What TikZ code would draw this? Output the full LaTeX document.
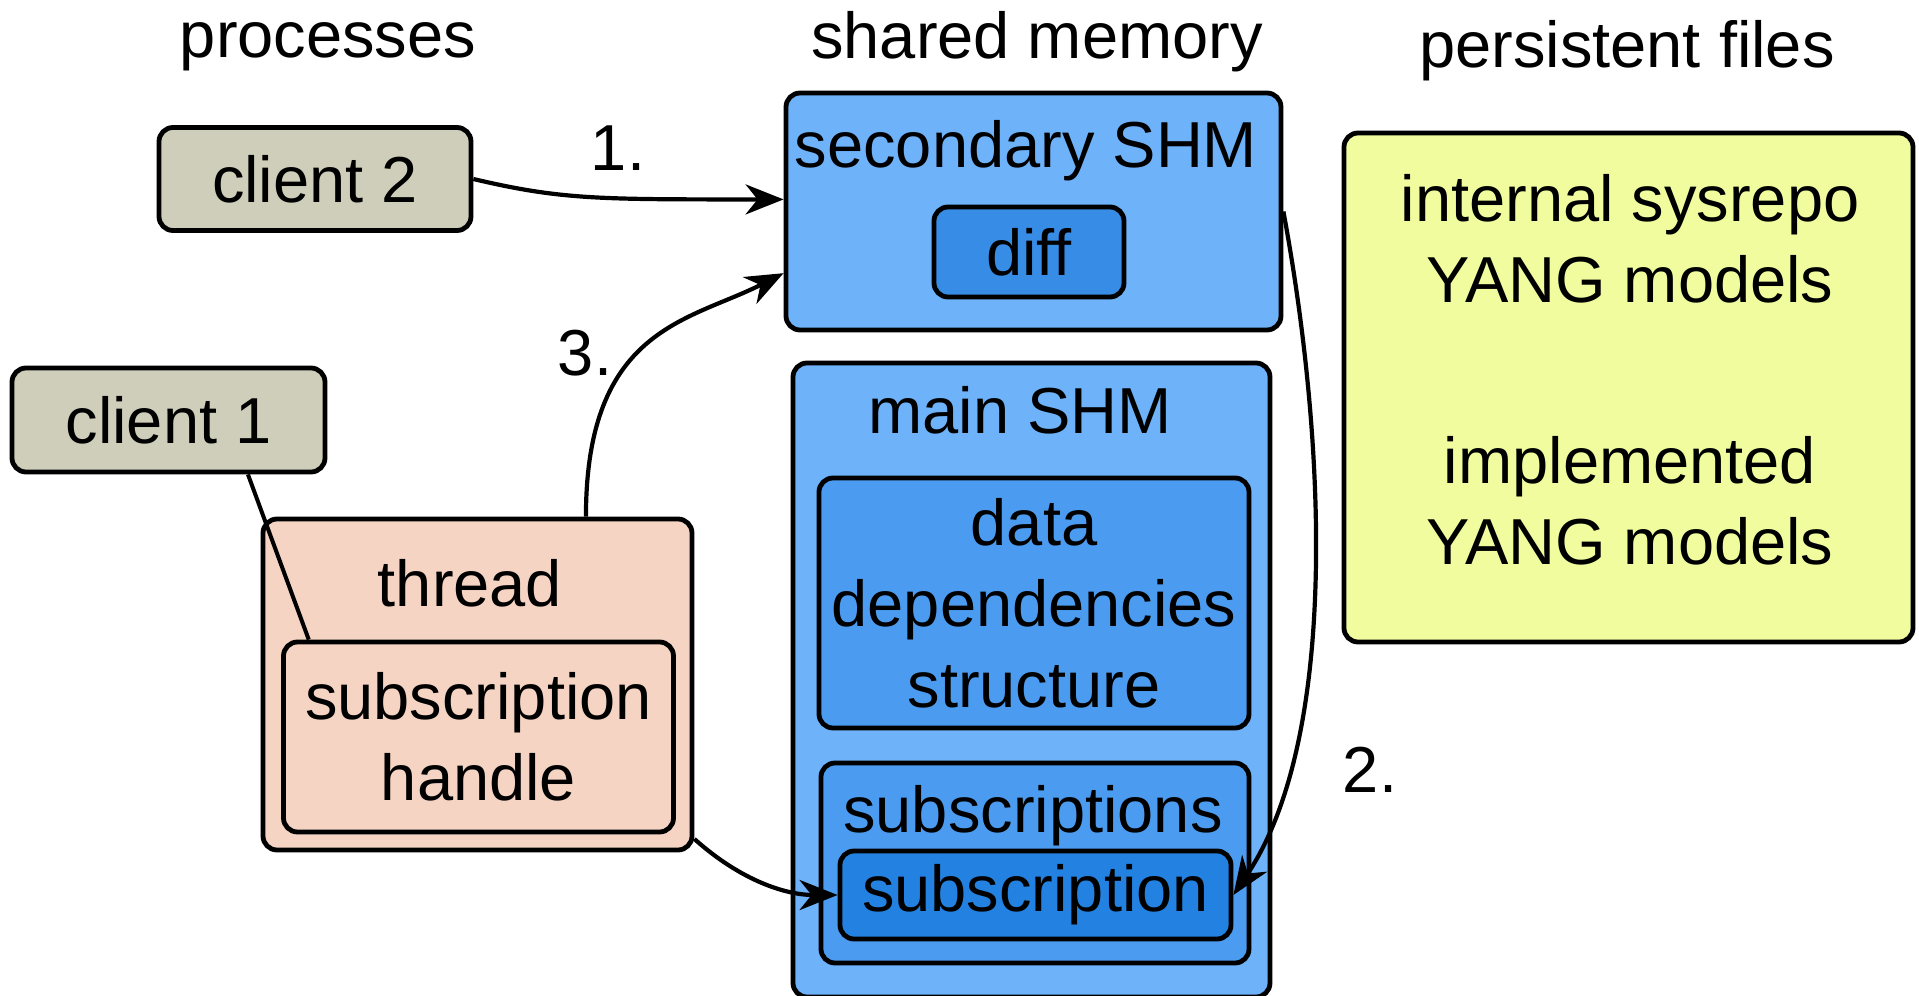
\documentclass[tikz,border=0pt]{standalone}
\usepackage{fontspec}
\setmainfont{Liberation Sans}
\usetikzlibrary{arrows.meta,calc}

\definecolor{clientgray}{RGB}{206,206,186}
\definecolor{threadpink}{RGB}{245,212,196}
\definecolor{shmblue}{RGB}{110,178,250}
\definecolor{diffblue}{RGB}{55,140,230}
\definecolor{depblue}{RGB}{75,156,240}
\definecolor{subblue}{RGB}{35,130,225}
\definecolor{fileyellow}{RGB}{240,252,158}

\begin{document}
\begin{tikzpicture}[x=0.5pt,y=0.5pt,yscale=-1,xscale=1,
  font=\fontsize{32.5}{40.5}\selectfont,
  box/.style={draw=black,line width=2.4pt,rounded corners=7pt,inner sep=0pt,align=center},
  conn/.style={line width=2.1pt,-{Stealth[length=19pt,width=15pt,inset=6pt]}}]
\useasboundingbox (0,0) rectangle (1919,996);

% Headings
\node[anchor=base] (hproc) at (328,57) {processes};
\node[anchor=base] (hshm) at (1037,58) {shared memory};
\node[anchor=base] (hfiles) at (1627,67) {persistent files};

%Shapes: processes
\node[box,fill=clientgray,minimum width=156pt,minimum height=51.5pt] (client2) at (315,179) {client 2};
\node[box,fill=clientgray,minimum width=156.5pt,minimum height=52pt] (client1) at (168.5,420) {client 1};
\node[box,fill=threadpink,minimum width=214.5pt,minimum height=165.5pt] (thread) at (477.5,684.5) {};
\node[box,fill=threadpink,minimum width=195pt,minimum height=95pt] (handle) at (478.5,737) {subscription\\handle};

%Shapes: shared memory
\node[box,fill=shmblue,minimum width=247.5pt,minimum height=118.5pt] (secshm) at (1033.5,211.5) {};
\node[box,fill=diffblue,minimum width=95pt,minimum height=45pt] (diff) at (1029,252) {diff};
\node[box,fill=shmblue,minimum width=238.5pt,minimum height=317pt] (mainshm) at (1031.5,680) {};
\node[box,fill=depblue,minimum width=215pt,minimum height=125pt] (deps) at (1034,603) {data\\dependencies\\structure};
\node[box,fill=depblue,minimum width=214pt,minimum height=100pt] (subs) at (1035,863) {};
\node[box,fill=subblue,minimum width=195.5pt,minimum height=44pt] (sub) at (1035.5,895) {subscription};

%Shapes: persistent files
\node[box,fill=fileyellow,minimum width=284.5pt,minimum height=254.5pt] (files) at (1628.5,387.5) {};

% Text Node
\node[anchor=base] (threadtxt) at (470,606) {thread};
\node[anchor=base] (secshmtxt) at (1026,167) {secondary SHM};
\node[anchor=base] (mainshmtxt) at (1020,433) {main SHM};
\node[anchor=base] (substxt) at (1033,832) {subscriptions};
\node[align=center] (filestxt) at (1630,370) {internal sysrepo\\YANG models\\[50pt]implemented\\YANG models};

% Step labels
\node[anchor=base] (lone) at (618,170) {1.};
\node[anchor=base] (ltwo) at (1370,792) {2.};
\node[anchor=base] (lthree) at (585,375) {3.};

%Straight Lines
\draw[line width=2pt] ($(client1.south west)!0.75!(client1.south east)$) -- ($(handle.north west)!0.07!(handle.north east)$);

%Curve Lines
\draw[conn] (client2.east) .. controls +(89,21) and +(-184,0) .. ($(secshm.north west)!0.45!(secshm.south west)$);
\draw[conn] ($(secshm.north east)!0.5!(secshm.south east)$) .. controls +(44,238) and +(104,-155) .. (sub.east);
\draw[conn] ($(thread.north west)!0.75!(thread.north east)$) .. controls +(0,-189) and +(-94,48) .. ($(secshm.north west)!0.755!(secshm.south west)$);
\draw[conn] ($(thread.north east)!0.96!(thread.south east)$) .. controls +(48,43) and +(-50,0) .. (sub.west);

\end{tikzpicture}
\end{document}
